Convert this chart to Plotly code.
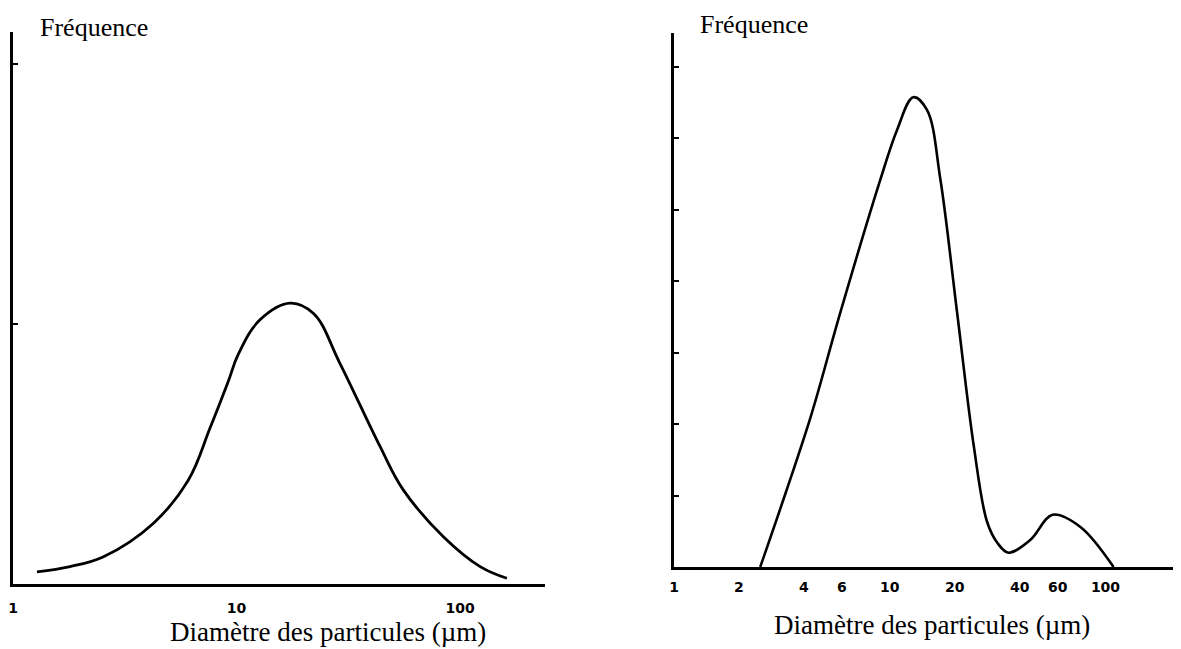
import plotly.graph_objects as go

# left panel: unimodal distribution
left_diam = [1.28, 1.80, 2.54, 4.24, 6.09, 7.61, 9.19, 10.2, 12.7, 17.4, 22.1, 29.0, 43.9, 55.7, 84.2, 123, 162]
left_freq = [0.047, 0.067, 0.105, 0.233, 0.40, 0.60, 0.78, 0.885, 1.015, 1.08, 1.04, 0.849, 0.528, 0.362, 0.182, 0.067, 0.022]
left_ticks = [1, 10, 100]

# right panel: bimodal distribution
right_diam = [2.51, 3.33, 4.35, 5.89, 9.03, 10.8, 12.85, 14.9, 17.15, 20.5, 24.5, 28.2, 31.5, 35.5, 44.9, 56.8, 76.5, 109]
right_freq = [0, 1.08, 2.15, 3.55, 5.41, 6.11, 6.57, 6.39, 5.43, 3.57, 1.70, 0.64, 0.34, 0.20, 0.38, 0.73, 0.56, 0]
right_ticks = [1, 2, 4, 6, 10, 20, 40, 60, 100]

# page body has an 8px margin, so the figure is drawn 8px smaller
OFF = 8
W, H = 1181 - OFF, 649 - OFF


def px(x):
    return (x - OFF) / W


def py(y):
    return (H - (y - OFF)) / H


fig = go.Figure()
fig.add_trace(go.Scatter(x=left_diam, y=left_freq, mode="lines", xaxis="x", yaxis="y",
                         line=dict(color="black", width=2.8, shape="spline", smoothing=1.1),
                         showlegend=False))
fig.add_trace(go.Scatter(x=right_diam, y=right_freq, mode="lines", xaxis="x2", yaxis="y2",
                         line=dict(color="black", width=2.6, shape="spline", smoothing=1.0),
                         showlegend=False))

tickfont = dict(family="DejaVu Sans", size=14, color="black", weight="bold")
serif = "Liberation Serif"

fig.update_layout(
    width=W, height=H,
    margin=dict(l=0, r=0, t=0, b=0),
    paper_bgcolor="white", plot_bgcolor="white",
    xaxis=dict(type="log", domain=[px(13), px(545)], range=[0, 2.38],
               tickvals=left_ticks, ticktext=[str(v) for v in left_ticks],
               tickfont=tickfont, ticks="", ticklabelstandoff=9,
               showline=True, linecolor="black", linewidth=2.5,
               showgrid=False, zeroline=False, automargin=False, anchor="y"),
    yaxis=dict(domain=[py(584), py(32)], range=[0, 552 / 260],
               tickvals=[1, 2], showticklabels=False, ticks="inside", ticklen=5, tickwidth=2,
               tickcolor="black",
               showline=True, linecolor="black", linewidth=3,
               showgrid=False, zeroline=False, automargin=False, anchor="x"),
    xaxis2=dict(type="log", domain=[px(674), 1.0], range=[0, 2.35],
                tickvals=right_ticks, ticktext=[str(v) for v in right_ticks],
                tickfont=tickfont, ticks="", ticklabelstandoff=5,
                showline=True, linecolor="black", linewidth=2.5,
                showgrid=False, zeroline=False, automargin=False, anchor="y2"),
    yaxis2=dict(domain=[py(567), py(33)], range=[0, 534 / 71.5],
                tickvals=[1, 2, 3, 4, 5, 6, 7], showticklabels=False, ticks="inside",
                ticklen=5, tickwidth=2, tickcolor="black",
                showline=True, linecolor="black", linewidth=3,
                showgrid=False, zeroline=False, automargin=False, anchor="x2"),
    annotations=[
        dict(text="Fréquence", x=px(38), y=py(28), xref="paper", yref="paper",
             xanchor="left", yanchor="middle", showarrow=False,
             font=dict(family=serif, size=26, color="black")),
        dict(text="Fréquence", x=px(698), y=py(25), xref="paper", yref="paper",
             xanchor="left", yanchor="middle", showarrow=False,
             font=dict(family=serif, size=26, color="black")),
        dict(text="Diamètre des particules (µm)", x=px(328), y=py(632),
             xref="paper", yref="paper", xanchor="center", yanchor="middle", showarrow=False,
             font=dict(family=serif, size=27, color="black")),
        dict(text="Diamètre des particules (µm)", x=px(932), y=py(625),
             xref="paper", yref="paper", xanchor="center", yanchor="middle", showarrow=False,
             font=dict(family=serif, size=27, color="black")),
    ],
)

fig.write_html("out.html")
